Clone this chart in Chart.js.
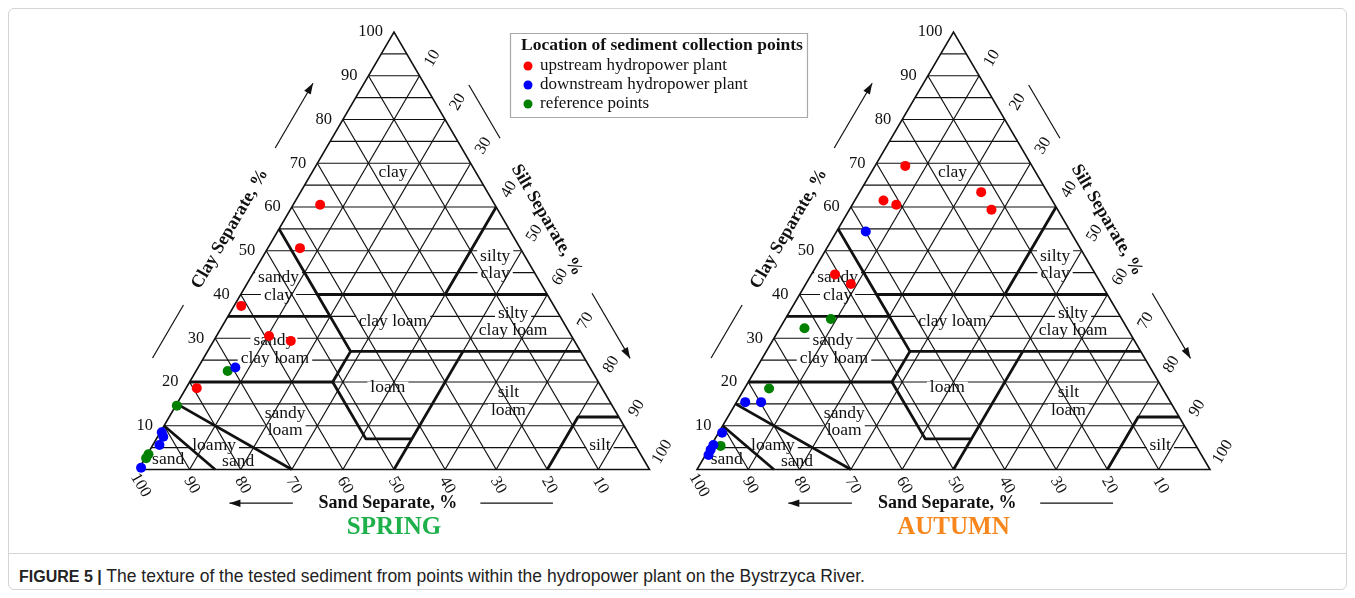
<!DOCTYPE html>
<html lang="en">
<head>
<meta charset="UTF-8">
<title>Soil texture of the sediment</title>
<script src="https://cdn.jsdelivr.net/npm/chart.js"></script>
<style>
  body { margin: 0; background: #fff; }
  #fig { position: relative; width: 1355px; height: 598px; overflow: hidden; }
  .frame { position: absolute; left: 8px; top: 8px; width: 1337px; height: 580px; border: 1px solid #d4d4d4; border-radius: 6px; }
  .rule { position: absolute; left: 9px; width: 1337px; top: 553px; border-top: 1px solid #d4d4d4; }
  canvas { position: absolute; left: 0; top: 0; }
  .caption { position: absolute; left: 19px; top: 566px; font-family: "Liberation Sans", Arial, sans-serif; font-size: 17.5px; color: #222; white-space: nowrap; }
  .caption b { font-size: 16px; }
</style>
<script>
  // values: clay % and silt % (sand = rest)
  const springUpClay   = [60.5, 50.6, 37.4, 30.5, 29.4, 18.6];
  const springUpSilt   = [5.3, 6.3, 1.4, 10.3, 15.1, 2.1];
  const springDownClay = [23.3, 8.5, 7.5, 5.6, 0.4];
  const springDownSilt = [7.3, 0.3, 1.1, 1.3, 0.3];
  const springRefClay  = [22.5, 14.6, 3.5, 2.6];
  const springRefSilt  = [6.2, 0.2, 0.2, 0.2];

  const autumnUpClay   = [69.4, 61.5, 60.5, 63.4, 59.4, 44.6, 42.4];
  const autumnUpSilt   = [5.9, 5.6, 8.6, 23.7, 27.7, 4.6, 8.8];
  const autumnDownClay = [54.4, 15.4, 15.4, 8.4, 5.6, 4.5, 3.3];
  const autumnDownSilt = [5.7, 1.7, 4.8, 0.7, 0.4, 0.4, 0.6];
  const autumnRefClay  = [34.4, 32.3, 18.5, 5.4];
  const autumnRefSilt  = [8.9, 4.8, 4.8, 1.9];

  const seriesNames  = ['upstream hydropower plant', 'downstream hydropower plant', 'reference points'];
  const seriesColors = ['#ff0000', '#0000ff', '#008000'];
  const tickValues   = [10, 20, 30, 40, 50, 60, 70, 80, 90, 100];

  // USDA class boundaries, points as [sand, silt, clay]
  const classLines = [
    [[45, 0, 55], [45, 15, 40], [20, 40, 40], [0, 40, 60]],
    [[20, 40, 40], [0, 60, 40]],
    [[65, 0, 35], [45, 20, 35]],
    [[45, 15, 40], [45, 28, 27], [0, 73, 27]],
    [[80, 0, 20], [52, 28, 20], [45, 28, 27]],
    [[52, 28, 20], [52, 41, 7], [43, 50, 7]],
    [[23, 50, 27], [50, 50, 0]],
    [[20, 80, 0], [8, 80, 12], [0, 88, 12]],
    [[70, 30, 0], [85, 0, 15]],
    [[85, 15, 0], [90, 0, 10]]
  ];

  // class names: text, x (base %), clay %
  const classLabels = [
    ['clay', 49.8, 68], ['silty', 69.8, 48.8], ['clay', 69.8, 44.9],
    ['sandy', 27.4, 43.9], ['clay', 27.4, 39.9], ['clay loam', 49.8, 33.9],
    ['silty', 73.3, 35.7], ['clay loam', 73.3, 31.7],
    ['sandy', 26.5, 29.5], ['clay loam', 26.7, 25.4],
    ['loam', 48.8, 18.7], ['silt', 72.4, 17.6], ['loam', 72.4, 13.6],
    ['sandy', 28.7, 12.8], ['loam', 28.7, 8.9],
    ['loamy', 14.8, 5.6], ['sand', 19.5, 1.8], ['sand', 5.8, 2.4], ['silt', 90.3, 5.4]
  ];

  const SERIF = '"Liberation Serif", "Times New Roman", serif';

  function toPoints(clay, silt) {
    return clay.map((c, i) => ({ x: silt[i] + c / 2, y: c }));
  }

  function arrowLine(ctx, a, b, head) {
    ctx.beginPath();
    ctx.moveTo(a[0], a[1]);
    ctx.lineTo(b[0], b[1]);
    ctx.stroke();
    if (!head) return;
    const ang = Math.atan2(b[1] - a[1], b[0] - a[0]);
    ctx.beginPath();
    ctx.moveTo(b[0], b[1]);
    ctx.lineTo(b[0] - 11 * Math.cos(ang) + 3.8 * Math.sin(ang), b[1] - 11 * Math.sin(ang) - 3.8 * Math.cos(ang));
    ctx.lineTo(b[0] - 11 * Math.cos(ang) - 3.8 * Math.sin(ang), b[1] - 11 * Math.sin(ang) + 3.8 * Math.cos(ang));
    ctx.closePath();
    ctx.fill();
  }

  const trianglePlugin = {
    id: 'triangle',
    beforeDatasetsDraw(chart, args, opts) {
      const ctx = chart.ctx;
      const xs = chart.scales.x, ys = chart.scales.y;
      const P = (x, y) => [xs.getPixelForValue(x), ys.getPixelForValue(y)];
      const T = (sand, silt, clay) => P(silt + clay / 2, clay);
      const seg = (a, b) => { ctx.beginPath(); ctx.moveTo(a[0], a[1]); ctx.lineTo(b[0], b[1]); ctx.stroke(); };

      ctx.save();
      ctx.strokeStyle = '#111';
      ctx.fillStyle = '#111';
      ctx.lineWidth = 1.2;

      // horizontal clay lines every 5 %
      for (let c = 5; c < 100; c += 5) seg(P(c / 2, c), P(100 - c / 2, c));

      // white patches behind class names
      ctx.font = '17.5px ' + SERIF;
      ctx.fillStyle = '#fff';
      classLabels.forEach(l => {
        const p = P(l[1], l[2]);
        const w = ctx.measureText(l[0]).width;
        ctx.fillRect(p[0] - w / 2 - 3, p[1] - 6, w + 6, 12);
      });

      // sand and silt lines every 10 %
      ctx.fillStyle = '#111';
      for (let v = 10; v < 100; v += 10) {
        seg(T(v, 100 - v, 0), T(v, 0, 100 - v));
        seg(T(100 - v, v, 0), T(0, v, 100 - v));
      }

      // outline
      ctx.lineWidth = 1.6;
      ctx.beginPath();
      const A = T(100, 0, 0), B = T(0, 100, 0), C = T(0, 0, 100);
      ctx.moveTo(A[0], A[1]); ctx.lineTo(B[0], B[1]); ctx.lineTo(C[0], C[1]); ctx.closePath();
      ctx.stroke();

      // class boundaries
      ctx.lineWidth = 2.8;
      ctx.lineJoin = 'round';
      classLines.forEach(line => {
        ctx.beginPath();
        line.forEach((pt, i) => {
          const p = T(pt[0], pt[1], pt[2]);
          if (i === 0) ctx.moveTo(p[0], p[1]); else ctx.lineTo(p[0], p[1]);
        });
        ctx.stroke();
      });

      // class names
      ctx.fillStyle = '#111';
      ctx.textAlign = 'center';
      ctx.textBaseline = 'middle';
      classLabels.forEach(l => {
        const p = P(l[1], l[2]);
        ctx.fillText(l[0], p[0], p[1]);
      });

      const leftAng = Math.atan2(C[1] - A[1], C[0] - A[0]);
      const rightAng = Math.atan2(B[1] - C[1], B[0] - C[0]);

      // tick numbers
      ctx.font = '16.5px ' + SERIF;
      tickValues.forEach(v => {
        const pc = P(v / 2 - 2.15, v);
        ctx.textAlign = 'right';
        ctx.fillText(String(v), pc[0], pc[1]);
        ctx.textAlign = 'center';
        const ps = P(50 + v / 2 + 2.5, 100 - v + 4);
        ctx.save(); ctx.translate(ps[0], ps[1]); ctx.rotate(-rightAng); ctx.fillText(String(v), 0, 0); ctx.restore();
        const pb = P(100 - v + 0.4, -3.6);
        ctx.save(); ctx.translate(pb[0], pb[1]); ctx.rotate(rightAng); ctx.fillText(String(v), 0, 0); ctx.restore();
      });

      // axis titles
      ctx.font = 'bold 18px ' + SERIF;
      let p = P(55 / 2 - 9.6, 55);
      ctx.save(); ctx.translate(p[0], p[1]); ctx.rotate(leftAng); ctx.fillText('Clay Separate, %', 0, 0); ctx.restore();
      p = P(100 - 57 / 2 + 8.4, 57);
      ctx.save(); ctx.translate(p[0], p[1]); ctx.rotate(rightAng); ctx.fillText('Silt Separate, %', 0, 0); ctx.restore();
      p = P(48.8, -7.7);
      ctx.fillText('Sand Separate, %', p[0], p[1]);

      // arrows and side strokes
      ctx.lineWidth = 1.2;
      arrowLine(ctx, P(25.5 / 2 - 10, 25.5), P(37.6 / 2 - 10, 37.6), false);
      arrowLine(ctx, P(73.5 / 2 - 10, 73.5), P(88.3 / 2 - 10, 88.3), true);
      arrowLine(ctx, P(100 - 87.9 / 2 + 8.6, 87.9), P(100 - 75.7 / 2 + 8.6, 75.7), false);
      arrowLine(ctx, P(100 - 40.3 / 2 + 8.9, 40.3), P(100 - 25.4 / 2 + 8.9, 25.4), true);
      arrowLine(ctx, P(30.2, -7.7), P(17.8, -7.7), true);
      arrowLine(ctx, P(66.9, -7.7), P(81.1, -7.7), false);

      // season
      ctx.font = 'bold 25px ' + SERIF;
      ctx.fillStyle = opts.color;
      p = P(50, -13.2);
      ctx.fillText(opts.title, p[0], p[1]);

      // legend box
      if (opts.legend) {
        ctx.fillStyle = '#fff';
        ctx.fillRect(510.5, 33.5, 297, 84);
        ctx.strokeStyle = '#a8a8a8';
        ctx.lineWidth = 1.2;
        ctx.strokeRect(510.5, 33.5, 297, 84);
        ctx.fillStyle = '#111';
        ctx.textAlign = 'left';
        ctx.font = 'bold 17.5px ' + SERIF;
        ctx.fillText('Location of sediment collection points', 521, 45.5);
        ctx.font = '17px ' + SERIF;
        seriesNames.forEach((n, i) => {
          const y = 66 + i * 19;
          ctx.fillStyle = seriesColors[i];
          ctx.beginPath(); ctx.arc(528, y, 4.5, 0, Math.PI * 2); ctx.fill();
          ctx.fillStyle = '#111';
          ctx.fillText(n, 540, y);
        });
      }
      ctx.restore();
    }
  };

  function makeChart(id, groups, pad, title, color, legend) {
    new Chart(document.getElementById(id), {
      type: 'scatter',
      data: {
        datasets: groups.map((g, i) => ({
          label: seriesNames[i],
          data: toPoints(g[0], g[1]),
          backgroundColor: seriesColors[i],
          borderWidth: 0,
          pointRadius: 5,
          clip: false
        }))
      },
      options: {
        responsive: false,
        animation: false,
        layout: { padding: pad },
        scales: {
          x: { type: 'linear', min: 0, max: 100, display: false },
          y: { type: 'linear', min: 0, max: 100, display: false }
        },
        plugins: {
          legend: { display: false },
          tooltip: { enabled: false },
          triangle: { title: title, color: color, legend: legend }
        }
      },
      plugins: [trianglePlugin]
    });
  }

  window.addEventListener('load', () => {
    makeChart('spring', [[springUpClay, springUpSilt], [springDownClay, springDownSilt], [springRefClay, springRefSilt]],
      { left: 138.5, right: 705.5, top: 32, bottom: 75.5 }, 'SPRING', '#1db04b', true);
    makeChart('autumn', [[autumnUpClay, autumnUpSilt], [autumnDownClay, autumnDownSilt], [autumnRefClay, autumnRefSilt]],
      { left: 697, right: 145, top: 32, bottom: 75.5 }, 'AUTUMN', '#f7861c', false);
  });
</script>
</head>
<body>
<div id="fig">
  <div class="frame"></div>
  <div class="rule"></div>
  <canvas id="spring" width="1355" height="545"></canvas>
  <canvas id="autumn" width="1355" height="545"></canvas>
  <div class="caption"><b>FIGURE 5 |</b> The texture of the tested sediment from points within the hydropower plant on the Bystrzyca River.</div>
</div>
</body>
</html>
